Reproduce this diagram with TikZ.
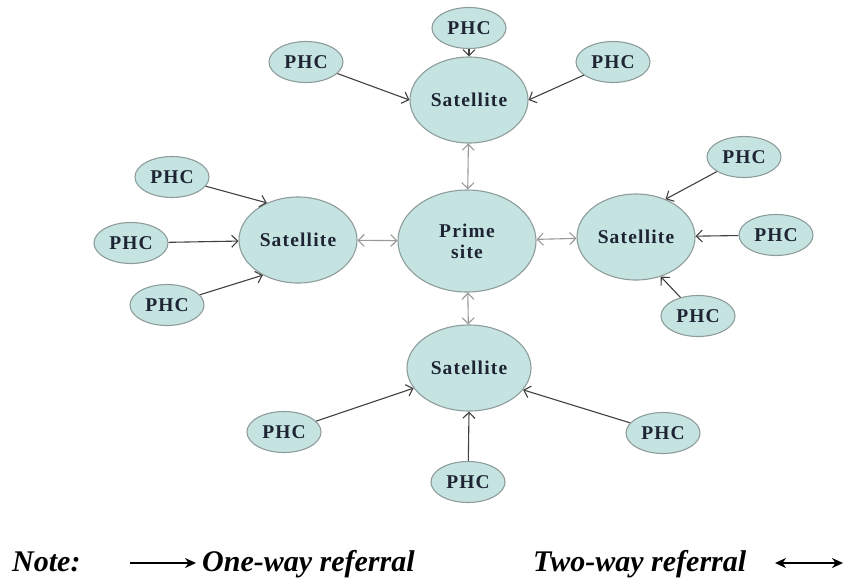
\documentclass[tikz,border=0pt]{standalone}
\usepackage{fontspec}
\setmainfont{Liberation Serif}
\newfontfamily\nodefont[LetterSpace=6]{Liberation Serif}
\usetikzlibrary{arrows.meta,shapes.geometric}
\definecolor{nodefill}{HTML}{C5E4E1}
\definecolor{nodeline}{HTML}{8E9C9B}
\definecolor{txt}{HTML}{1E2433}
\tikzset{
  base/.style={ellipse,draw=nodeline,fill=nodefill,line width=1.1pt,inner sep=0pt,text=txt,font=\nodefont\bfseries\fontsize{19.5}{21}\selectfont},
  phc/.style={base,minimum width=74pt,minimum height=41pt},
  sat/.style={base,minimum width=118pt,minimum height=86pt},
  prime/.style={base,minimum width=138pt,minimum height=102pt,align=center,font=\nodefont\bfseries\fontsize{19.5}{21}\selectfont},
  oneway/.style={draw=black!75,line width=1.1pt,-{Straight Barb[length=6pt,width=12pt]}},
  twoway/.style={draw=black!40,line width=1.1pt,{Straight Barb[length=6pt,width=12pt]}-{Straight Barb[length=6pt,width=12pt]}},
  legtext/.style={anchor=base west,inner sep=0pt,font=\bfseries\itshape\fontsize{30}{32}\selectfont},
  legarrow/.style={line width=2pt,-{Stealth[length=11pt,width=10pt]}},
  legarrow2/.style={line width=2pt,{Stealth[length=11pt,width=10pt]}-{Stealth[length=11pt,width=10pt]}}
}
\begin{document}
\begin{tikzpicture}[x=1pt,y=-1pt]
\useasboundingbox (0,0) rectangle (845,579);
% main nodes
\node[prime] (prime) at (467,241) {Prime\\site};
\node[sat] (st) at (469,100) {Satellite};
\node[sat] (sl) at (298,240) {Satellite};
\node[sat] (sr) at (636,237) {Satellite};
\node[sat,minimum width=124pt] (sb) at (469,368) {Satellite};
% PHCs
\node[phc] (pt)  at (469,28)  {PHC};
\node[phc] (ptl) at (306,62)  {PHC};
\node[phc] (ptr) at (613,62)  {PHC};
\node[phc] (pl1) at (172,177) {PHC};
\node[phc] (pl2) at (131,243) {PHC};
\node[phc] (pl3) at (167,305) {PHC};
\node[phc] (pr1) at (744,157) {PHC};
\node[phc] (pr2) at (776,235) {PHC};
\node[phc] (pr3) at (698,316) {PHC};
\node[phc] (pb1) at (284,432) {PHC};
\node[phc] (pb2) at (468,482) {PHC};
\node[phc] (pb3) at (663,433) {PHC};
% one-way
\draw[oneway] (pt) -- (st);
\draw[oneway] (ptl) -- (st.west);
\draw[oneway] (ptr) -- (st.east);
\draw[oneway] (pl1) -- (sl.130);
\draw[oneway] (pl2) -- (sl);
\draw[oneway] (pl3) -- (sl.225);
\draw[oneway] (pr1) -- (sr.52);
\draw[oneway] (pr2) -- (sr);
\draw[oneway] (pr3) -- (sr.-58);
\draw[oneway] (pb1) -- (sb.200);
\draw[oneway] (pb2) -- (sb.south);
\draw[oneway] (pb3) -- (sb.-22);
% two-way
\draw[twoway] (prime) -- (st);
\draw[twoway] (prime) -- (sl);
\draw[twoway] (prime) -- (sr);
\draw[twoway] (prime) -- (sb);
% legend
\node[legtext] (note) at (12,571) {Note:};
\coordinate (a1s) at (130,563);
\coordinate (a1e) at (196,563);
\draw[legarrow] (a1s) -- (a1e);
\node[legtext] (one) at (202,571) {One-way referral};
\node[legtext] (two) at (533,571) {Two-way referral};
\coordinate (a2s) at (775,563);
\coordinate (a2e) at (843,563);
\draw[legarrow2] (a2s) -- (a2e);
\end{tikzpicture}
\end{document}
